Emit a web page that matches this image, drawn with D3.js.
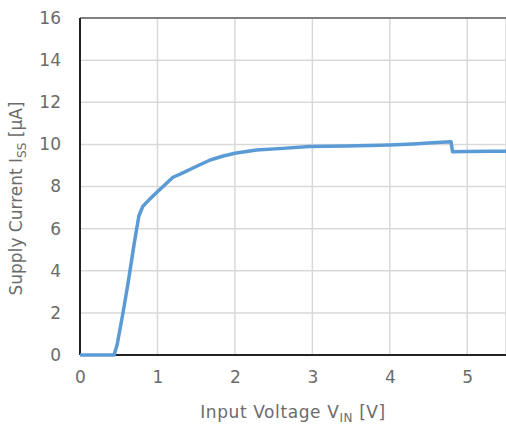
<!DOCTYPE html>
<html>
<head>
<meta charset="utf-8">
<script src="https://cdn.jsdelivr.net/npm/d3@7"></script>
<style>
  body { margin: 0; background: #fff; }
  svg text { font-family: "DejaVu Sans", "Liberation Sans", sans-serif; fill: #6b6b6b; }
</style>
</head>
<body>
<div id="chart"></div>
<script>
const vin = [0, 0.44, 0.48, 0.55, 0.62, 0.70, 0.76, 0.81, 0.90, 1.0, 1.1, 1.2, 1.3, 1.5, 1.68, 1.85, 2.0, 2.28, 2.62, 2.96, 3.44, 4.0, 4.3, 4.55, 4.79, 4.81, 5.0, 5.3, 5.5]
const iss = [0, 0, 0.5, 1.9, 3.4, 5.3, 6.6, 7.05, 7.4, 7.75, 8.1, 8.44, 8.6, 8.95, 9.26, 9.45, 9.58, 9.73, 9.81, 9.9, 9.92, 9.97, 10.02, 10.08, 10.13, 9.65, 9.66, 9.67, 9.67]
const xTicks = [0, 1, 2, 3, 4, 5]
const yTicks = [0, 2, 4, 6, 8, 10, 12, 14, 16]

const margin = {top: 18, right: 0, bottom: 73, left: 80},
    width = 506 - margin.left - margin.right,
    height = 428 - margin.top - margin.bottom

const svg = d3.select("#chart")
    .append("svg")
    .attr("width", 506)
    .attr("height", 428)
    .append("g")
    .attr("transform", `translate(${margin.left},${margin.top})`)

const x = d3.scaleLinear().domain([0, 5.5]).range([0, width])
const y = d3.scaleLinear().domain([0, 16]).range([height, 0])

// gridlines
svg.append("g")
    .selectAll("line.v")
    .data(xTicks.slice(1).concat([5.5]))
    .join("line")
    .attr("x1", d => x(d)).attr("x2", d => x(d))
    .attr("y1", 0).attr("y2", height)
    .attr("stroke", "#d9d9d9")
    .attr("stroke-width", 1.5)

svg.append("g")
    .selectAll("line.h")
    .data(yTicks.slice(1))
    .join("line")
    .attr("x1", 0).attr("x2", width)
    .attr("y1", d => y(d)).attr("y2", d => y(d))
    .attr("stroke", d => d === 16 ? "#808080" : "#d9d9d9")
    .attr("stroke-width", d => d === 16 ? 2 : 1.5)

// axes
const xAxis = svg.append("g")
    .attr("transform", `translate(0,${height})`)
    .call(d3.axisBottom(x).tickValues(xTicks).tickSize(0).tickPadding(16).tickFormat(d3.format("d")))
xAxis.select(".domain").remove()

const yAxis = svg.append("g")
    .call(d3.axisLeft(y).tickValues(yTicks).tickSize(0).tickPadding(19).tickFormat(d3.format("d")))
yAxis.select(".domain").remove()

svg.selectAll(".tick text")
    .style("font-size", "17px")
    .style("font-family", null)
    .attr("fill", "#6b6b6b")

svg.append("line")
    .attr("x1", 0).attr("x2", 0).attr("y1", 0).attr("y2", height)
    .attr("stroke", "#222").attr("stroke-width", 2)
svg.append("line")
    .attr("x1", 0).attr("x2", width).attr("y1", height).attr("y2", height)
    .attr("stroke", "#222").attr("stroke-width", 2)

// data line
const pts = vin.map((v, i) => [v, iss[i]])
svg.append("path")
    .datum(pts)
    .attr("d", d3.line().x(d => x(d[0])).y(d => y(d[1])))
    .attr("fill", "none")
    .attr("stroke", "#5B9BD5")
    .attr("stroke-width", 3.5)
    .attr("stroke-linejoin", "round")

// axis titles
const xt = svg.append("text")
    .attr("x", width / 2)
    .attr("y", height + 63)
    .attr("text-anchor", "middle")
    .style("font-size", "17px")
    .style("letter-spacing", "0.6px")
xt.append("tspan").text("Input Voltage V")
xt.append("tspan").text("IN").style("font-size", "12px").attr("dy", 4)
xt.append("tspan").text(" [V]").attr("dy", -4)

const yt = svg.append("text")
    .attr("transform", `translate(${-58},${height / 2 + 12}) rotate(-90)`)
    .attr("text-anchor", "middle")
    .style("font-size", "17px")
yt.append("tspan").text("Supply Current I")
yt.append("tspan").text("SS").style("font-size", "12px").attr("dy", 4)
yt.append("tspan").text(" [µA]").attr("dy", -4)
</script>
</body>
</html>
